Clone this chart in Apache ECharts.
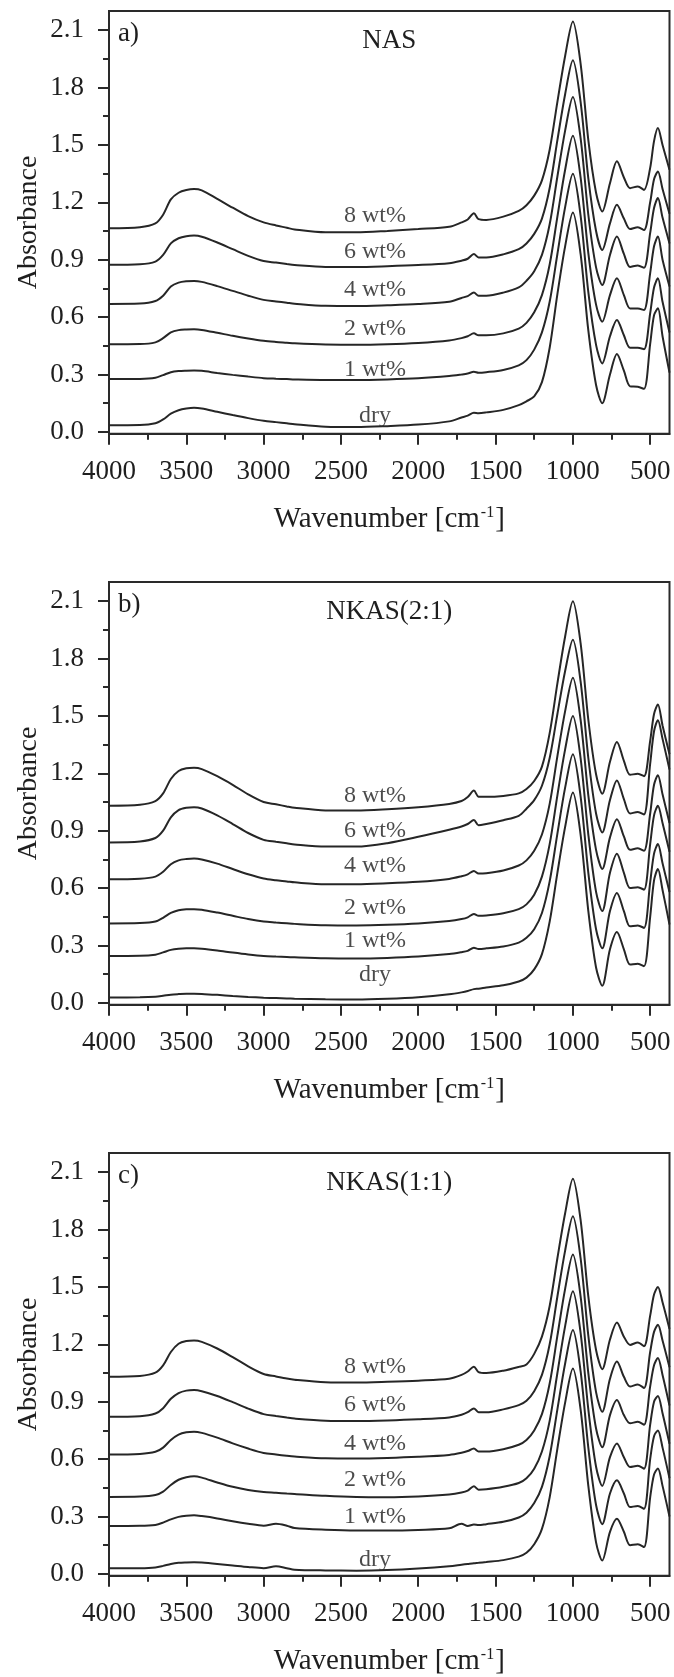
<!DOCTYPE html>
<html>
<head>
<meta charset="utf-8">
<script src="https://cdn.jsdelivr.net/npm/echarts@6/dist/echarts.min.js"></script>
<style>
  html, body { margin: 0; padding: 0; background: #ffffff; }
  #chart { width: 674px; height: 1677px; }
</style>
</head>
<body>
<div id="chart"></div>
<script>
// Wavenumber grid shared by every spectrum [cm-1]
const wavenumbers = [4000, 3800, 3700, 3650, 3600, 3550, 3500, 3450, 3400, 3300, 3200, 3100, 3000, 2920, 2850, 2800,
  2600, 2400, 2200, 2000, 1800, 1720, 1680, 1640, 1610, 1560, 1450, 1350, 1300, 1250, 1200, 1150, 1100, 1050, 1000,
  950, 900, 850, 810, 760, 715, 670, 630, 580, 540, 500, 475, 450, 420, 375];

// a) NAS
const nasDry = [0.035,0.036,0.045,0.065,0.095,0.113,0.122,0.126,0.122,0.105,0.088,0.072,0.058,0.051,0.045,0.040,
  0.027,0.025,0.030,0.038,0.055,0.075,0.085,0.100,0.098,0.102,0.115,0.140,0.160,0.185,0.260,0.440,0.720,0.970,1.147,
  0.930,0.530,0.245,0.150,0.300,0.407,0.320,0.238,0.236,0.225,0.460,0.610,0.646,0.500,0.310];
const nas1 = [0.276,0.277,0.283,0.297,0.312,0.318,0.320,0.321,0.319,0.308,0.298,0.289,0.281,0.278,0.276,0.274,
  0.271,0.271,0.274,0.280,0.292,0.300,0.305,0.314,0.309,0.312,0.324,0.348,0.375,0.430,0.520,0.680,0.930,1.175,1.349,
  1.130,0.730,0.455,0.358,0.500,0.585,0.505,0.440,0.440,0.432,0.620,0.755,0.803,0.680,0.520];
const nas2 = [0.458,0.459,0.468,0.490,0.520,0.532,0.535,0.536,0.533,0.518,0.502,0.488,0.476,0.470,0.466,0.463,
  0.457,0.455,0.458,0.465,0.478,0.490,0.500,0.515,0.505,0.505,0.515,0.540,0.570,0.625,0.715,0.875,1.125,1.370,1.548,
  1.330,0.935,0.665,0.576,0.715,0.803,0.715,0.645,0.645,0.637,0.830,0.970,1.021,0.900,0.760];
const nas4 = [0.669,0.671,0.684,0.712,0.760,0.780,0.787,0.789,0.784,0.762,0.737,0.712,0.690,0.682,0.675,0.670,
  0.659,0.658,0.662,0.668,0.680,0.700,0.710,0.728,0.712,0.712,0.728,0.755,0.790,0.840,0.925,1.085,1.335,1.575,1.751,
  1.535,1.135,0.860,0.768,0.925,1.021,0.930,0.862,0.870,0.858,1.040,1.170,1.222,1.120,0.985];
const nas6 = [0.873,0.876,0.890,0.925,0.985,1.012,1.023,1.026,1.020,0.990,0.955,0.920,0.893,0.885,0.877,0.872,
  0.862,0.862,0.866,0.872,0.882,0.895,0.905,0.930,0.912,0.912,0.928,0.955,0.985,1.035,1.115,1.275,1.525,1.765,1.942,
  1.725,1.325,1.050,0.951,1.090,1.187,1.115,1.060,1.070,1.055,1.200,1.320,1.361,1.270,1.140];
const nas8 = [1.065,1.070,1.090,1.135,1.215,1.250,1.264,1.269,1.262,1.218,1.172,1.128,1.095,1.079,1.067,1.058,
  1.043,1.043,1.050,1.060,1.072,1.095,1.110,1.143,1.112,1.108,1.125,1.155,1.185,1.235,1.315,1.475,1.725,1.965,2.145,
  1.925,1.525,1.250,1.152,1.300,1.414,1.330,1.274,1.283,1.265,1.380,1.520,1.588,1.500,1.370];

// b) NKAS(2:1)
const nkas21Dry = [0.028,0.029,0.032,0.037,0.043,0.046,0.048,0.048,0.047,0.042,0.036,0.031,0.027,0.025,0.023,0.022,
  0.019,0.018,0.022,0.030,0.045,0.055,0.062,0.072,0.074,0.080,0.092,0.112,0.132,0.175,0.255,0.425,0.680,0.920,1.100,
  0.880,0.480,0.185,0.090,0.280,0.370,0.280,0.200,0.205,0.192,0.450,0.640,0.700,0.590,0.410];
const nkas21_1 = [0.245,0.246,0.252,0.264,0.277,0.283,0.285,0.285,0.283,0.274,0.263,0.253,0.245,0.242,0.240,0.238,
  0.233,0.232,0.235,0.242,0.255,0.265,0.272,0.288,0.282,0.285,0.295,0.315,0.340,0.385,0.470,0.635,0.885,1.125,1.300,
  1.080,0.680,0.385,0.285,0.480,0.575,0.480,0.400,0.405,0.392,0.630,0.780,0.830,0.730,0.580];
const nkas21_2 = [0.415,0.417,0.425,0.445,0.470,0.484,0.489,0.490,0.487,0.472,0.455,0.438,0.425,0.420,0.416,0.413,
  0.406,0.405,0.408,0.415,0.428,0.438,0.447,0.465,0.455,0.457,0.468,0.490,0.515,0.565,0.660,0.830,1.085,1.325,1.500,
  1.280,0.880,0.580,0.480,0.680,0.780,0.680,0.600,0.605,0.592,0.830,0.980,1.030,0.940,0.790];
const nkas21_4 = [0.646,0.649,0.660,0.685,0.725,0.745,0.752,0.755,0.750,0.728,0.700,0.672,0.650,0.641,0.635,0.630,
  0.620,0.620,0.625,0.633,0.648,0.662,0.672,0.690,0.676,0.678,0.692,0.718,0.745,0.795,0.880,1.040,1.290,1.525,1.700,
  1.480,1.085,0.800,0.700,0.865,0.960,0.870,0.800,0.808,0.795,0.990,1.140,1.190,1.090,0.940];
const nkas21_6 = [0.839,0.844,0.862,0.900,0.970,1.008,1.020,1.023,1.016,0.980,0.935,0.888,0.852,0.842,0.834,0.828,
  0.817,0.817,0.835,0.868,0.905,0.922,0.935,0.956,0.928,0.935,0.955,0.978,1.015,1.060,1.135,1.280,1.510,1.735,1.898,
  1.680,1.280,0.990,0.891,1.060,1.163,1.065,0.990,0.998,0.985,1.250,1.420,1.478,1.380,1.220];
const nkas21_8 = [1.031,1.036,1.055,1.095,1.170,1.212,1.226,1.229,1.222,1.185,1.140,1.090,1.050,1.038,1.027,1.020,
  1.006,1.005,1.012,1.023,1.040,1.055,1.076,1.110,1.078,1.077,1.082,1.095,1.118,1.160,1.235,1.410,1.670,1.915,2.099,
  1.880,1.480,1.195,1.093,1.260,1.364,1.265,1.192,1.198,1.185,1.370,1.510,1.560,1.450,1.300];

// c) NKAS(1:1)
const nkas11Dry = [0.029,0.030,0.034,0.042,0.052,0.058,0.060,0.061,0.059,0.052,0.044,0.036,0.030,0.040,0.030,0.022,
  0.018,0.017,0.020,0.028,0.040,0.048,0.052,0.056,0.058,0.062,0.072,0.090,0.110,0.155,0.235,0.400,0.655,0.895,1.073,
  0.860,0.460,0.165,0.070,0.220,0.288,0.220,0.150,0.155,0.140,0.400,0.520,0.551,0.460,0.300];
const nkas11_1 = [0.250,0.251,0.256,0.268,0.285,0.298,0.304,0.306,0.302,0.290,0.275,0.262,0.252,0.262,0.252,0.240,
  0.231,0.227,0.227,0.230,0.238,0.262,0.250,0.258,0.255,0.260,0.272,0.295,0.320,0.370,0.455,0.615,0.860,1.100,1.275,
  1.060,0.660,0.360,0.260,0.420,0.489,0.420,0.349,0.355,0.340,0.600,0.720,0.750,0.660,0.500];
const nkas11_2 = [0.402,0.404,0.412,0.430,0.465,0.492,0.505,0.510,0.503,0.478,0.455,0.438,0.428,0.424,0.420,0.418,
  0.408,0.402,0.401,0.405,0.415,0.425,0.435,0.458,0.440,0.442,0.455,0.475,0.500,0.550,0.640,0.800,1.050,1.295,1.477,
  1.260,0.860,0.560,0.460,0.610,0.682,0.610,0.559,0.565,0.550,0.780,0.900,0.930,0.840,0.680];
const nkas11_4 = [0.624,0.627,0.638,0.660,0.700,0.728,0.740,0.743,0.737,0.712,0.682,0.655,0.632,0.624,0.617,0.613,
  0.604,0.603,0.606,0.612,0.622,0.633,0.642,0.655,0.640,0.640,0.652,0.675,0.700,0.750,0.835,0.995,1.245,1.490,1.669,
  1.450,1.050,0.760,0.662,0.830,0.909,0.830,0.787,0.795,0.780,0.980,1.090,1.129,1.040,0.880];
const nkas11_6 = [0.821,0.824,0.838,0.866,0.915,0.945,0.958,0.961,0.955,0.930,0.898,0.864,0.835,0.825,0.817,0.812,
  0.801,0.799,0.802,0.808,0.818,0.832,0.845,0.865,0.845,0.845,0.860,0.882,0.905,0.955,1.040,1.200,1.450,1.690,1.870,
  1.650,1.245,0.950,0.847,1.020,1.110,1.030,0.979,0.990,0.972,1.160,1.265,1.302,1.220,1.080];
const nkas11_8 = [1.031,1.035,1.052,1.090,1.160,1.203,1.217,1.220,1.213,1.178,1.133,1.085,1.045,1.032,1.021,1.015,
  1.002,1.000,1.004,1.010,1.020,1.040,1.058,1.083,1.055,1.050,1.062,1.082,1.095,1.150,1.240,1.400,1.650,1.885,2.066,
  1.850,1.450,1.170,1.070,1.225,1.314,1.240,1.197,1.210,1.190,1.350,1.460,1.500,1.420,1.280];

const curveNames = ['dry', '1 wt%', '2 wt%', '4 wt%', '6 wt%', '8 wt%'];
const panelLetters = ['a)', 'b)', 'c)'];
const panelTitles = ['NAS', 'NKAS(2:1)', 'NKAS(1:1)'];
const panelCurves = [
  [nasDry, nas1, nas2, nas4, nas6, nas8],
  [nkas21Dry, nkas21_1, nkas21_2, nkas21_4, nkas21_6, nkas21_8],
  [nkas11Dry, nkas11_1, nkas11_2, nkas11_4, nkas11_6, nkas11_8]
];

// Axis ticks
const yTicks = [0, 0.3, 0.6, 0.9, 1.2, 1.5, 1.8, 2.1];
const yMinorTicks = [0.15, 0.45, 0.75, 1.05, 1.35, 1.65, 1.95];
const xTicks = [4000, 3500, 3000, 2500, 2000, 1500, 1000, 500];
const xMinorTicks = [3750, 3250, 2750, 2250, 1750, 1250, 750];

// ---- layout ----
const FONT = '"Liberation Serif", "Times New Roman", serif';
const INK = '#1e1e1e';
const GRID_LEFT = 109;
const GRID_WIDTH = 560.5;
const GRID_HEIGHT = 422.8;
const panelTops = [11, 582, 1153];
const X_MIN = 375, X_MAX = 4000, Y_MIN = -0.01, Y_MAX = 2.2;
// where each "x wt%" tag sits, in data coordinates
const tagX = 2280;
const tagLevels = [
  [0.087, 0.323, 0.541, 0.742, 0.942, 1.129],
  [0.145, 0.325, 0.500, 0.716, 0.900, 1.084],
  [0.073, 0.300, 0.493, 0.682, 0.883, 1.083]
];

const chart = echarts.init(document.getElementById('chart'), null, { renderer: 'canvas' });

const grids = [], xAxes = [], yAxes = [], series = [], graphics = [];

panelTops.forEach((top, p) => {
  grids.push({
    left: GRID_LEFT, top: top, width: GRID_WIDTH, height: GRID_HEIGHT,
    containLabel: false, outerBoundsMode: 'none',
    show: true, borderColor: '#2a2a2a', borderWidth: 2, backgroundColor: 'transparent'
  });
  const axisLineStyle = { color: '#2a2a2a', width: 2 };
  // main x axis: labels and major ticks
  xAxes.push({
    type: 'value', gridIndex: p, position: 'bottom', min: X_MIN, max: X_MAX, inverse: true,
    axisLine: { show: true, onZero: false, lineStyle: axisLineStyle },
    axisTick: { show: true, inside: false, length: 11, customValues: xTicks, lineStyle: axisLineStyle },
    axisLabel: { show: true, customValues: xTicks, margin: 25, fontFamily: FONT, fontSize: 27, color: INK,
      formatter: v => String(v) },
    splitLine: { show: false },
    name: 'Wavenumber [cm{sup|-1}]', nameLocation: 'middle', nameGap: 71, nameMoveOverlap: false,
    nameTextStyle: { fontFamily: FONT, fontSize: 29, color: INK,
      rich: { sup: { fontFamily: FONT, fontSize: 16, color: INK, verticalAlign: 'top', padding: [0, 1, 0, 1] } } }
  });
  // minor x ticks
  xAxes.push({
    type: 'value', gridIndex: p, position: 'bottom', min: X_MIN, max: X_MAX, inverse: true,
    axisLine: { show: false, onZero: false },
    axisTick: { show: true, inside: false, length: 6, customValues: xMinorTicks, lineStyle: axisLineStyle },
    axisLabel: { show: false },
    splitLine: { show: false }
  });
  // main y axis: labels and major ticks
  yAxes.push({
    type: 'value', gridIndex: p, position: 'left', min: Y_MIN, max: Y_MAX,
    axisLine: { show: true, onZero: false, lineStyle: axisLineStyle },
    axisTick: { show: true, inside: false, length: 11, customValues: yTicks, lineStyle: axisLineStyle },
    axisLabel: { show: true, customValues: yTicks, margin: 25, fontFamily: FONT, fontSize: 27, color: INK,
      formatter: v => v.toFixed(1) },
    splitLine: { show: false },
    name: 'Absorbance', nameLocation: 'middle', nameGap: 66, nameMoveOverlap: false,
    nameTextStyle: { fontFamily: FONT, fontSize: 28, color: INK }
  });
  // minor y ticks
  yAxes.push({
    type: 'value', gridIndex: p, position: 'left', offset: 0, min: Y_MIN, max: Y_MAX,
    axisLine: { show: false, onZero: false },
    axisTick: { show: true, inside: false, length: 6, customValues: yMinorTicks, lineStyle: axisLineStyle },
    axisLabel: { show: false },
    splitLine: { show: false }
  });

  panelCurves[p].forEach((values, c) => {
    series.push({
      type: 'line', name: panelTitles[p] + ' ' + curveNames[c],
      xAxisIndex: p * 2, yAxisIndex: p * 2,
      data: wavenumbers.map((w, k) => [w, values[k]]),
      showSymbol: false, symbol: 'none', smooth: 0.3, clip: true, silent: true,
      lineStyle: { color: '#262626', width: 2 }
    });
  });

  series.push({
    type: 'scatter', xAxisIndex: p * 2, yAxisIndex: p * 2, silent: true,
    symbolSize: 1, itemStyle: { color: 'rgba(0,0,0,0)' },
    data: curveNames.map((n, c) => ({ name: n, value: [tagX, tagLevels[p][c]] })),
    label: { show: true, position: 'inside', formatter: '{b}', fontFamily: FONT, fontSize: 24, color: INK }
  });

  graphics.push({
    type: 'text', x: GRID_LEFT + 9, y: top + 23, silent: true,
    style: { text: panelLetters[p], font: '27px ' + FONT, fill: INK, textAlign: 'left', textVerticalAlign: 'middle' }
  });
  graphics.push({
    type: 'text', x: GRID_LEFT + GRID_WIDTH / 2, y: top + 30, silent: true,
    style: { text: panelTitles[p], font: '27px ' + FONT, fill: INK, textAlign: 'center', textVerticalAlign: 'middle' }
  });
});

chart.setOption({
  animation: false,
  backgroundColor: '#ffffff',
  grid: grids,
  xAxis: xAxes,
  yAxis: yAxes,
  series: series,
  graphic: graphics
});
</script>
</body>
</html>
